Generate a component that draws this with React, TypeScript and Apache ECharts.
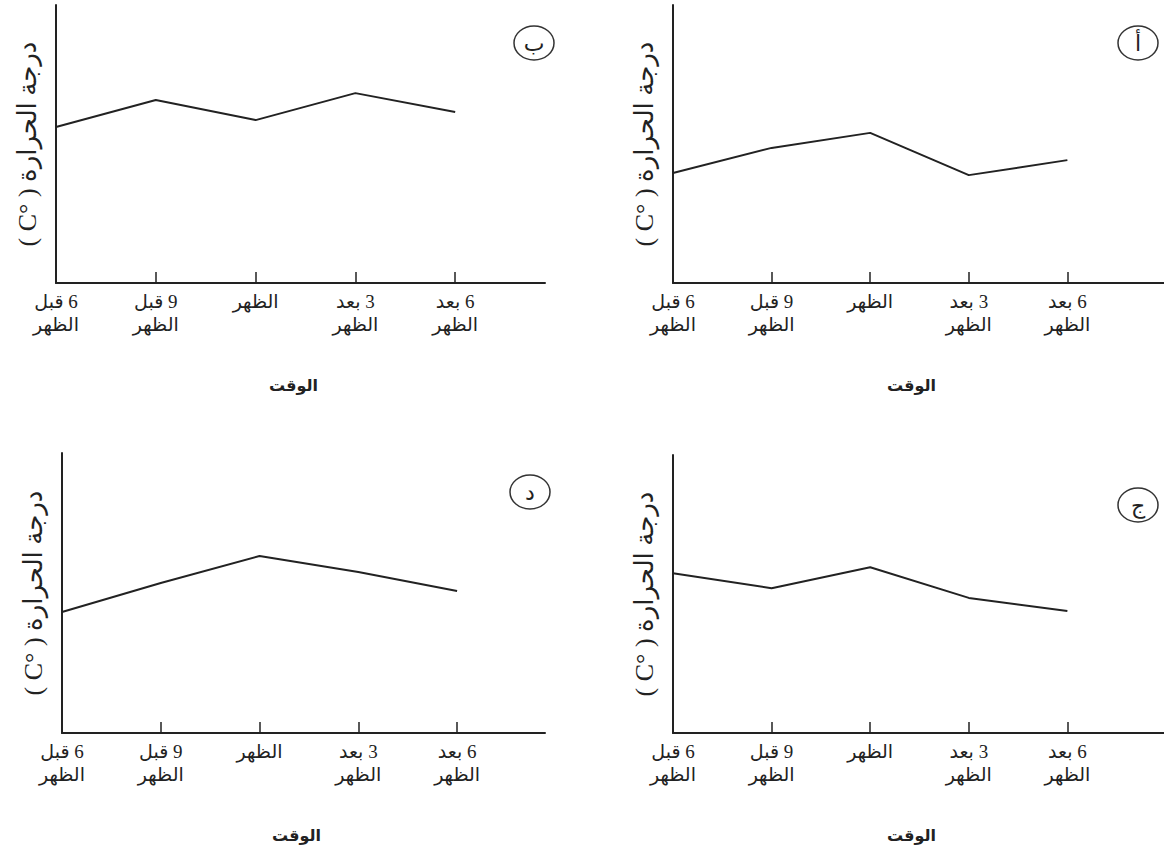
import React, { useEffect, useRef } from "react";
import * as echarts from "echarts";

// categories (time of day)
const timeLabels = ["6 قبل\nالظهر", "9 قبل\nالظهر", "الظهر", "3 بعد\nالظهر", "6 بعد\nالظهر"];
const xTitle = "الوقت";
const yTitle = "( C° ) درجة الحرارة";
const panelLetters = ["ب", "أ", "د", "ج"];

// temperature readings (relative units, 0 = x axis, 10 = top of y axis)
const tempB = [5.61, 6.58, 5.86, 6.83, 6.15];
const tempA = [3.96, 4.86, 5.4, 3.88, 4.42];
const tempD = [4.32, 5.36, 6.32, 5.75, 5.07];
const tempJ = [5.75, 5.21, 5.96, 4.86, 4.39];
const seriesValues = [tempB, tempA, tempD, tempJ];

const RLM = "\u200F";
const FONT = "'Liberation Serif', 'DejaVu Sans', serif";
const INK = "#222";

// layout of the four panels (pixels)
const panels = [
  { left: 56, top: 5, width: 489, height: 278, xMax: 4.9, cx: 534, cy: 43 },
  { left: 673, top: 5, width: 495, height: 278, xMax: 4.98, cx: 1138, cy: 43 },
  { left: 62, top: 453, width: 483, height: 280, xMax: 4.89, cx: 530, cy: 492 },
  { left: 673, top: 455, width: 495, height: 278, xMax: 4.98, cx: 1138, cy: 505 },
];

export default function App() {
  const ref = useRef<HTMLDivElement>(null);
  useEffect(() => {
    if (!ref.current) return;
    const chart = echarts.init(ref.current, null, { renderer: "svg" });
    const option: any = {
      animation: false,
      backgroundColor: "#fff",
      grid: panels.map((p) => ({ left: p.left, top: p.top, width: p.width, height: p.height, containLabel: false })),
      xAxis: panels.map((p, i) => ({
        type: "value",
        gridIndex: i,
        min: 0,
        max: p.xMax,
        interval: 1,
        splitLine: { show: false },
        axisLine: { show: true, lineStyle: { color: INK, width: 2 } },
        axisTick: { show: true, inside: true, length: 11, lineStyle: { color: INK, width: 1.5 }, customValues: [1, 2, 3, 4] },
        axisLabel: {
          show: true,
          customValues: [0, 1, 2, 3, 4],
          margin: 7,
          color: INK,
          fontFamily: FONT,
          fontSize: 19,
          lineHeight: 23,
          verticalAlign: "top",
          formatter: (v: number) => {
            const idx = Math.round(v);
            if (Math.abs(v - idx) > 1e-6 || idx < 0 || idx >= timeLabels.length) return "";
            return timeLabels[idx].split("\n").map((l) => RLM + l).join("\n");
          },
        },
        name: xTitle,
        nameLocation: "middle",
        nameGap: 94,
        nameTextStyle: { color: INK, fontFamily: FONT, fontSize: 16, fontWeight: "bold", padding: [0, 14, 0, 0] },
      })),
      yAxis: panels.map((p, i) => ({
        type: "value",
        gridIndex: i,
        min: 0,
        max: 10,
        splitLine: { show: false },
        axisLine: { show: true, lineStyle: { color: INK, width: 2 } },
        axisTick: { show: false },
        axisLabel: { show: false },
        name: yTitle,
        nameLocation: "middle",
        nameRotate: 90,
        nameGap: 16,
        nameTextStyle: { color: INK, fontFamily: FONT, fontSize: 26 },
      })),
      series: seriesValues.map((vals, i) => ({
        type: "line",
        xAxisIndex: i,
        yAxisIndex: i,
        symbol: "none",
        lineStyle: { color: INK, width: 2 },
        data: vals.map((v, k) => [k, v]),
      })),
      graphic: panels.map((p, i) => ({
        type: "group",
        children: [
          {
            type: "ellipse",
            shape: { cx: p.cx, cy: p.cy, rx: 20, ry: 17 },
            style: { fill: "none", stroke: "#333", lineWidth: 1.5 },
          },
          {
            type: "text",
            x: p.cx,
            y: p.cy,
            style: {
              text: panelLetters[i],
              fill: INK,
              fontFamily: FONT,
              fontSize: 22,
              align: "center",
              verticalAlign: "middle",
            },
          },
        ],
      })),
    };
    chart.setOption(option);
    return () => chart.dispose();
  }, []);
  return (
    <div
      ref={ref}
      style={{ position: "fixed", left: 0, top: 0, width: 1164, height: 851, background: "#fff" }}
    />
  );
}
